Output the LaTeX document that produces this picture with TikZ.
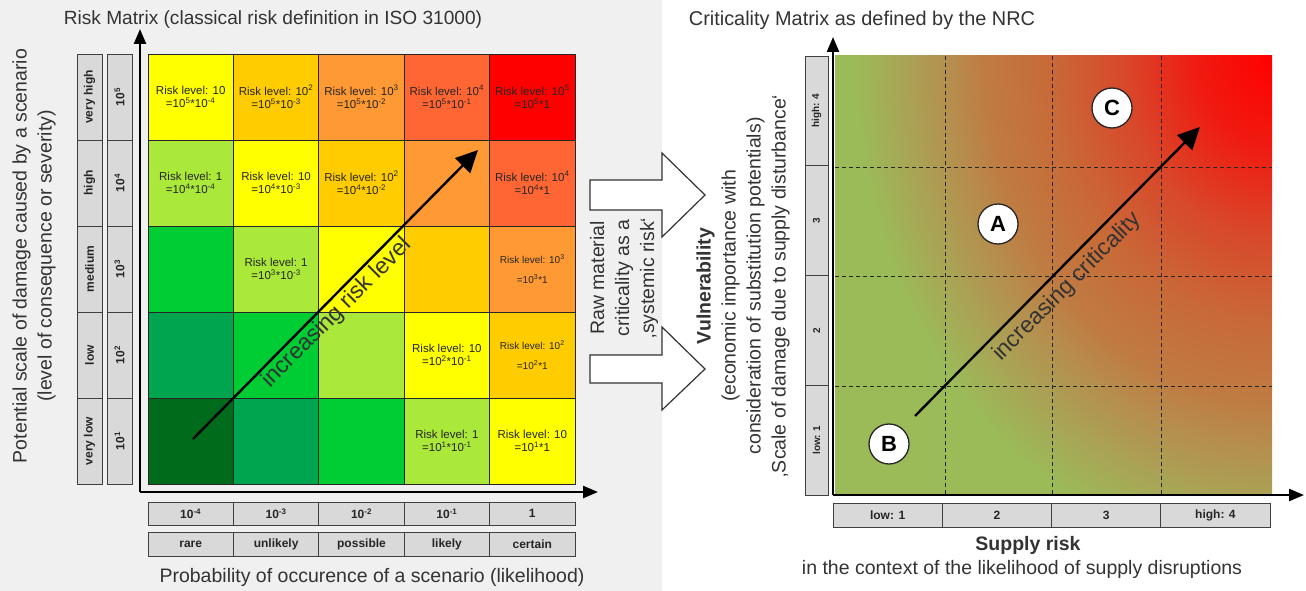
\documentclass[tikz,border=0pt]{standalone}
\usepackage{fontspec}
\setmainfont{Liberation Sans}
\usetikzlibrary{arrows.meta,calc}
\definecolor{bgpanel}{HTML}{F0F0F0}
\definecolor{boxgray}{HTML}{D9D9D9}
\definecolor{lv0}{HTML}{006B1A}
\definecolor{lv1}{HTML}{00A54F}
\definecolor{lv2}{HTML}{00CC33}
\definecolor{lv3}{HTML}{AAE83A}
\definecolor{lv4}{HTML}{FFFF00}
\definecolor{lv5}{HTML}{FFCC00}
\definecolor{lv6}{HTML}{FF9933}
\definecolor{lv7}{HTML}{FF6633}
\definecolor{lv8}{HTML}{FF0000}
\definecolor{gA}{HTML}{F01A10}
\definecolor{gB}{HTML}{D8482A}
\definecolor{gC}{HTML}{C86A38}
\definecolor{gD}{HTML}{BF7C42}
\definecolor{gE}{HTML}{B58F4E}
\definecolor{gF}{HTML}{A8A555}
\definecolor{gG}{HTML}{9BBB59}
\pgfdeclareradialshading{critshade}{\pgfpoint{0bp}{0bp}}{color(0bp)=(lv8); color(4bp)=(gA); color(8bp)=(gB); color(12bp)=(gC); color(15.5bp)=(gD); color(17.5bp)=(gE); color(20bp)=(gF); color(22.5bp)=(gG); color(50bp)=(gG)}
\tikzset{
  cell/.style={draw=black!85, line width=0.9pt, minimum width=85.4pt, minimum height=86pt, inner sep=0pt, outer sep=0pt},
  celltxt/.style={align=center, font=\fontsize{11.5}{13.5}\selectfont, text=black!85, inner sep=0pt},
  cellsmall/.style={align=center, font=\fontsize{10}{20}\selectfont, text=black!85, inner sep=0pt},
  lblbox/.style={draw=black!75, fill=boxgray, line width=0.9pt, inner sep=0pt, outer sep=0pt, text=black!85, font=\bfseries\fontsize{12}{14}\selectfont},
  bigtxt/.style={font=\fontsize{19.5}{25}\selectfont, text=black!80, inner sep=0pt},
  axisline/.style={line width=2.4pt, -{Triangle[length=15pt,width=12pt]}},
  diagarrow/.style={line width=2.4pt, -{Triangle[length=22pt,width=21pt]}},
  gridline/.style={dash pattern=on 4pt off 3pt, line width=1pt, draw=black!85},
  letter/.style={circle, draw=black!85, fill=white, line width=1.3pt, minimum size=40pt, inner sep=0pt, font=\bfseries\fontsize{22}{22}\selectfont},
  blockarrow/.style={fill=white, draw=black!80, line width=1.2pt, line join=miter},
  slopetxt/.style={font=\fontsize{23}{23}\selectfont, text=black!80, rotate=45, anchor=north}
}
\begin{document}
\begin{tikzpicture}[x=1pt,y=-1pt]
\useasboundingbox (0,0) rectangle (1306,591);
\fill[white] (0,0) rectangle (1306,591);
\fill[bgpanel] (0,0) rectangle (662,591);

% ---------- left risk matrix ----------
\foreach \c in {0,...,4}{
  \foreach \r in {0,...,4}{
    \pgfmathtruncatemacro\k{\c+\r}
    \node[cell, fill=lv\k] (m\c\r) at ({148+85.4*(\c+0.5)}, {484-86*(\r+0.5)}) {};
  }
}
\node[celltxt] (t04) at (m04) {Risk level: 10\\=10\textsuperscript{5}*10\textsuperscript{-4}};
\node[celltxt] (t14) at (m14) {Risk level: 10\textsuperscript{2}\\=10\textsuperscript{5}*10\textsuperscript{-3}};
\node[celltxt] (t24) at (m24) {Risk level: 10\textsuperscript{3}\\=10\textsuperscript{5}*10\textsuperscript{-2}};
\node[celltxt] (t34) at (m34) {Risk level: 10\textsuperscript{4}\\=10\textsuperscript{5}*10\textsuperscript{-1}};
\node[celltxt] (t44) at (m44) {Risk level: 10\textsuperscript{5}\\=10\textsuperscript{5}*1};
\node[celltxt] (t03) at (m03) {Risk level: 1\\=10\textsuperscript{4}*10\textsuperscript{-4}};
\node[celltxt] (t13) at (m13) {Risk level: 10\\=10\textsuperscript{4}*10\textsuperscript{-3}};
\node[celltxt] (t23) at (m23) {Risk level: 10\textsuperscript{2}\\=10\textsuperscript{4}*10\textsuperscript{-2}};
\node[celltxt] (t43) at (m43) {Risk level: 10\textsuperscript{4}\\=10\textsuperscript{4}*1};
\node[celltxt] (t12) at (m12) {Risk level: 1\\=10\textsuperscript{3}*10\textsuperscript{-3}};
\node[cellsmall] (t42) at (m42) {Risk level: 10\textsuperscript{3}\\=10\textsuperscript{3}*1};
\node[celltxt] (t31) at (m31) {Risk level: 10\\=10\textsuperscript{2}*10\textsuperscript{-1}};
\node[cellsmall] (t41) at (m41) {Risk level: 10\textsuperscript{2}\\=10\textsuperscript{2}*1};
\node[celltxt] (t30) at (m30) {Risk level: 1\\=10\textsuperscript{1}*10\textsuperscript{-1}};
\node[celltxt] (t40) at (m40) {Risk level: 10\\=10\textsuperscript{1}*1};

% axes
\coordinate (LO) at (140,492);
\coordinate (LTop) at (140,29);
\coordinate (LRight) at (598,492);
\draw[axisline] (LO) -- (LTop);
\draw[axisline] (LO) -- (LRight);

% left label columns
\foreach \lab [count=\i from 0] in {very low, low, medium, high, very high}{
  \node[lblbox, rotate=90, minimum width=86pt, minimum height=25pt] (sv\i) at (89.5, {484-86*(\i+0.5)}) {\lab};
}
\foreach \e [count=\i from 0] in {1,2,3,4,5}{
  \node[lblbox, rotate=90, minimum width=86pt, minimum height=25pt] (se\i) at (119.5, {484-86*(\i+0.5)}) {10\textsuperscript{\e}};
}
% bottom label rows
\foreach \p [count=\i from 0] in {{10\textsuperscript{-4}},{10\textsuperscript{-3}},{10\textsuperscript{-2}},{10\textsuperscript{-1}},{1}}{
  \node[lblbox, minimum width=85.4pt, minimum height=23pt] (pr\i) at ({148+85.4*(\i+0.5)}, 513.5) {\p};
}
\foreach \p [count=\i from 0] in {rare,unlikely,possible,likely,certain}{
  \node[lblbox, minimum width=85.4pt, minimum height=24pt] (pw\i) at ({148+85.4*(\i+0.5)}, 544) {\p};
}

% diagonal arrow left
\coordinate (LA) at (193,439);
\coordinate (LB) at (478,150);
\draw[diagarrow] (LA) -- (LB);
\node[slopetxt, inner sep=3pt] (incr) at ($(LA)!0.47!(LB)$) {increasing risk level};

% labels left
\node[bigtxt, font=\fontsize{19.1}{25}\selectfont] (ttlL) at (273,20) {Risk Matrix (classical risk definition in ISO 31000)};
\node[bigtxt, rotate=90, align=center] (ylabL) at (34,256) {Potential scale of damage caused by a scenario\\(level of consequence or severity)};
\node[bigtxt] (xlabL) at (372,577) {Probability of occurence of a scenario (likelihood)};

% block arrows
\draw[blockarrow] (590,180) -- (662,180) -- (662,153) -- (705,195) -- (662,237) -- (662,210) -- (590,210) -- cycle;
\draw[blockarrow] (590,355) -- (662,355) -- (662,327) -- (705,369) -- (662,410) -- (662,383) -- (590,383) -- cycle;
\node[bigtxt, rotate=90, align=center] (raw) at (624,278) {Raw material\\criticality as a\\‚systemic risk‘};

% ---------- right criticality matrix ----------
\begin{scope}
  \clip (835,56) rectangle (1272,495);
  \shade[shading=critshade] (807,-504) rectangle (1737,616);
\end{scope}
\foreach \x in {945,1052,1161}{ \draw[gridline] (\x,56) -- (\x,495); }
\foreach \y in {167,276,386}{ \draw[gridline] (835,\y) -- (1272,\y); }

\coordinate (RO) at (833,495);
\coordinate (RTop) at (833,37);
\coordinate (RRight) at (1304,495);
\draw[axisline] (RO) -- (RTop);
\draw[axisline] (RO) -- (RRight);

\foreach \lab [count=\i from 0] in {low: 1,2,3,high: 4}{
  \node[lblbox, rotate=90, minimum width=109.75pt, minimum height=23pt, font=\bfseries\fontsize{10}{12}\selectfont] (rv\i) at (816.5, {495-109.75*(\i+0.5)}) {\lab};
}
\foreach \lab [count=\i from 0] in {low: 1,2,3,high: 4}{
  \node[lblbox, minimum width=109.25pt, minimum height=24pt] (rs\i) at ({833+109.25*(\i+0.5)}, 515) {\lab};
}

\coordinate (RA) at (915,416);
\coordinate (RB) at (1200,127);
\draw[diagarrow] (RA) -- (RB);
\node[slopetxt, inner sep=7pt] (crit) at ($(RA)!0.49!(RB)$) {increasing criticality};

\node[letter] (cA) at (998,224) {A};
\node[letter] (cB) at (889,444) {B};
\node[letter] (cC) at (1112,108) {C};

\node[bigtxt, font=\fontsize{19.9}{25}\selectfont] (ttlR) at (862,20) {Criticality Matrix as defined by the NRC};
\node[bigtxt, rotate=90, align=center] (ylabR) at (743,286) {\textbf{Vulnerability}\\(economic importance with\\consideration of substitution potentials)\\‚Scale of damage due to supply disturbance‘};
\node[bigtxt, font=\bfseries\fontsize{19.5}{25}\selectfont] (xlabR) at (1028,545) {Supply risk};
\node[bigtxt] (xsubR) at (1022,569) {in the context of the likelihood of supply disruptions};
\end{tikzpicture}
\end{document}
